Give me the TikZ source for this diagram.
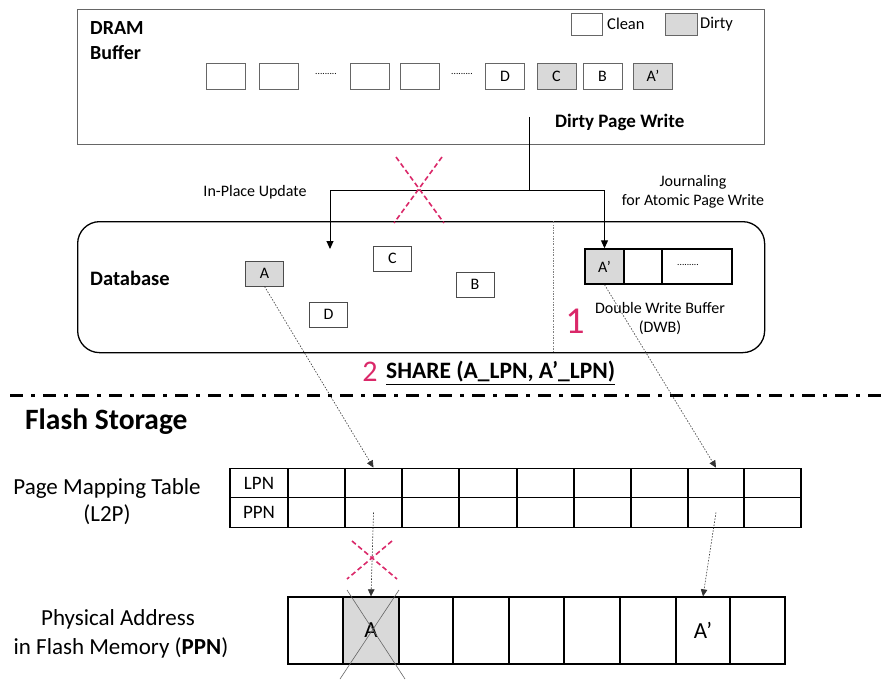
\documentclass[tikz,border=0pt]{standalone}
\usepackage{fontspec}
\setmainfont{Carlito}
\usetikzlibrary{arrows.meta}
\definecolor{myred}{RGB}{218,40,105}
\definecolor{cellgray}{RGB}{217,217,217}
\begin{document}
\begin{tikzpicture}[x=1pt,y=-1pt,
  fs/.style={font=\fontsize{#1}{#1}\selectfont},
  bfs/.style={font=\fontsize{#1}{#1}\selectfont\bfseries},
  bufbox/.style={draw=black!60, line width=0.9pt, minimum width=39pt, minimum height=26pt, inner sep=0pt, fs=16},
  dbbox/.style={draw=black!70, line width=0.9pt, minimum width=38pt, minimum height=25pt, inner sep=0pt, fs=16},
  dirty/.style={fill=cellgray},
  tcell/.style={draw=black, line width=1.3pt, minimum height=29.5pt, inner sep=0pt, fs=19},
  pcell/.style={draw=black, line width=1.3pt, minimum height=67pt, inner sep=0pt, fs=23},
  wcell/.style={draw=black, line width=1.4pt, minimum height=35pt, inner sep=0pt, fs=16},
  flow/.style={black, line width=1pt, -{Triangle[length=8pt,width=7pt]}},
  dotarrow/.style={black!80, line width=0.6pt, dash pattern=on 1.5pt off 1.5pt, -{Triangle[length=7pt,width=6.5pt]}},
  redx/.style={myred, line width=1.6pt, dash pattern=on 5pt off 3pt},
  lbl/.style={inner sep=0pt, align=center},
  dotfill/.style={inner sep=0pt, font=\fontsize{9.5}{9.5}\selectfont}
]
\useasboundingbox (0,0) rectangle (881,682);

% ---------------- DRAM buffer ----------------
\node[draw=black!60, line width=1pt, minimum width=687pt, minimum height=135pt, anchor=north west, inner sep=0pt] (dram) at (77,9) {};
\node[lbl, bfs=20, anchor=west] (dramT) at (90,28) {DRAM};
\node[lbl, bfs=20, anchor=west] (dramB) at (90,53) {Buffer};

\node[bufbox, minimum width=31pt, minimum height=22pt] (legC) at (586.5,24) {};
\node[lbl, fs=16.5, anchor=west] (legCt) at (607,24) {Clean};
\node[bufbox, dirty, minimum width=32pt, minimum height=22pt] (legD) at (681,24) {};
\node[lbl, fs=16.5, anchor=west] (legDt) at (700,24) {Dirty};

\node[bufbox] (b1) at (226,76) {};
\node[bufbox] (b2) at (278.5,76) {};
\node[dotfill] (dots1) at (326,74) {.........};
\node[bufbox] (b3) at (369.5,76) {};
\node[bufbox] (b4) at (420,76) {};
\node[dotfill] (dots2) at (462,74) {.........};
\node[bufbox] (bD) at (505,76) {D};
\node[bufbox, dirty] (bC) at (556.5,76) {C};
\node[bufbox] (bB) at (602.5,76) {B};
\node[bufbox, dirty] (bA) at (653,76) {A’};

\node[lbl, bfs=19, anchor=west] (dpw) at (555,122) {Dirty Page Write};

% ---------------- Database ----------------
\node[draw=black, line width=1.3pt, rounded corners=22pt, minimum width=687pt, minimum height=131pt, anchor=north west, inner sep=0pt] (db) at (77,221) {};
\draw[black!50, line width=0.9pt, dash pattern=on 2pt off 1.5pt on 0.5pt off 1.5pt] (553,221) -- (553,352);
\node[lbl, bfs=20.5, anchor=west] (dbT) at (90,278) {Database};

\node[dbbox, dirty] (dA) at (264.5,273.5) {A};
\node[dbbox] (dC) at (392.5,258.5) {C};
\node[dbbox] (dD) at (328.5,314.5) {D};
\node[dbbox] (dB) at (475,284.5) {B};

\node[wcell, dirty, minimum width=39pt] (w1) at (604.5,266.5) {A’};
\node[wcell, minimum width=38pt] (w2) at (643,266.5) {};
\node[wcell, minimum width=70pt] (w3) at (697,266.5) {};
\node[dotfill] (dots3) at (688,264.5) {.........};

\node[lbl, fs=16] (dwbT1) at (660,308) {Double Write Buffer};
\node[lbl, fs=16] (dwbT2) at (660,328) {(DWB)};
\node[lbl, fs=38, myred] (one) at (575,321) {1};

\node[lbl, fs=16] (ipuT) at (255,192) {In-Place Update};
\node[lbl, fs=16] (jrnT1) at (693,182) {Journaling};
\node[lbl, fs=16] (jrnT2) at (693,201) {for Atomic Page Write};

% dirty page write flows
\coordinate (dwStart) at (529,117);
\coordinate (split) at (529,190);
\coordinate (ipuEnd) at (330,249);
\draw[black, line width=1pt] (dwStart) -- (split);
\draw[flow] (split) -| (ipuEnd);
\draw[flow] (split) -| (w1.north);

% red cross on in-place update
\draw[redx] (396,157) -- (444,223);
\draw[redx] (442,157) -- (394,223);

% SHARE
\node[lbl, fs=30, myred] (two) at (370,372) {2};
\node[lbl, bfs=23.5, anchor=west] (share) at (386,373) {\underline{SHARE (A\_LPN, A’\_LPN)}};

% separator
\draw[line width=3pt, dash pattern=on 13pt off 8pt on 4pt off 8pt] (10,395) -- (881,395);

% ---------------- Flash storage ----------------
\node[lbl, bfs=29.5, anchor=west] (fsT) at (25,422) {Flash Storage};
\node[lbl, fs=23] (pmtT1) at (107,488) {Page Mapping Table};
\node[lbl, fs=23] (pmtT2) at (107,515) {(L2P)};

\foreach \a/\b [count=\i from 0] in {230/288,288/345,345/402,402/459,459/517,517/574,574/631,631/688,688/744,744/801}{
  \node[tcell, minimum width={(\b-\a)*1pt}] (l\i) at ({(\a+\b)/2},483) {};
  \node[tcell, minimum width={(\b-\a)*1pt}] (p\i) at ({(\a+\b)/2},512.5) {};
}
\node[lbl, fs=19] at (l0) {LPN};
\node[lbl, fs=19] at (p0) {PPN};

\node[lbl, fs=23] (paT1) at (118,619) {Physical Address};
\node[lbl, fs=23] (paT2) at (121,648) {in Flash Memory (\textbf{PPN})};

\foreach \a/\b [count=\i from 0] in {288/343,343/399,399/453,453/509,509/564,564/620,620/676,676/730,730/785}{
  \node[pcell, minimum width={(\b-\a)*1pt}] (ph\i) at ({(\a+\b)/2},630.5) {};
}
\node[pcell, dirty, minimum width=56pt] (phA) at (371,630.5) {A};
\node[lbl, fs=23] at (ph7) {A’};

% crossing-out of old page
\draw[black!60, line width=0.6pt] (347,590) -- (405,679);
\draw[black!60, line width=0.6pt] (399,590) -- (340,679);

% mapping arrows
\draw[dotarrow] (dA.south) -- (l2.north);
\draw[dotarrow] (w1.south) -- (l8.north);
\draw[dotarrow] (p2.center) -- (phA.north);
\draw[dotarrow] (p8.center) -- (ph7.north);

% red cross on old mapping
\draw[redx] (352,541) -- (397,579);
\draw[redx] (392,541) -- (347,579);
\end{tikzpicture}
\end{document}
